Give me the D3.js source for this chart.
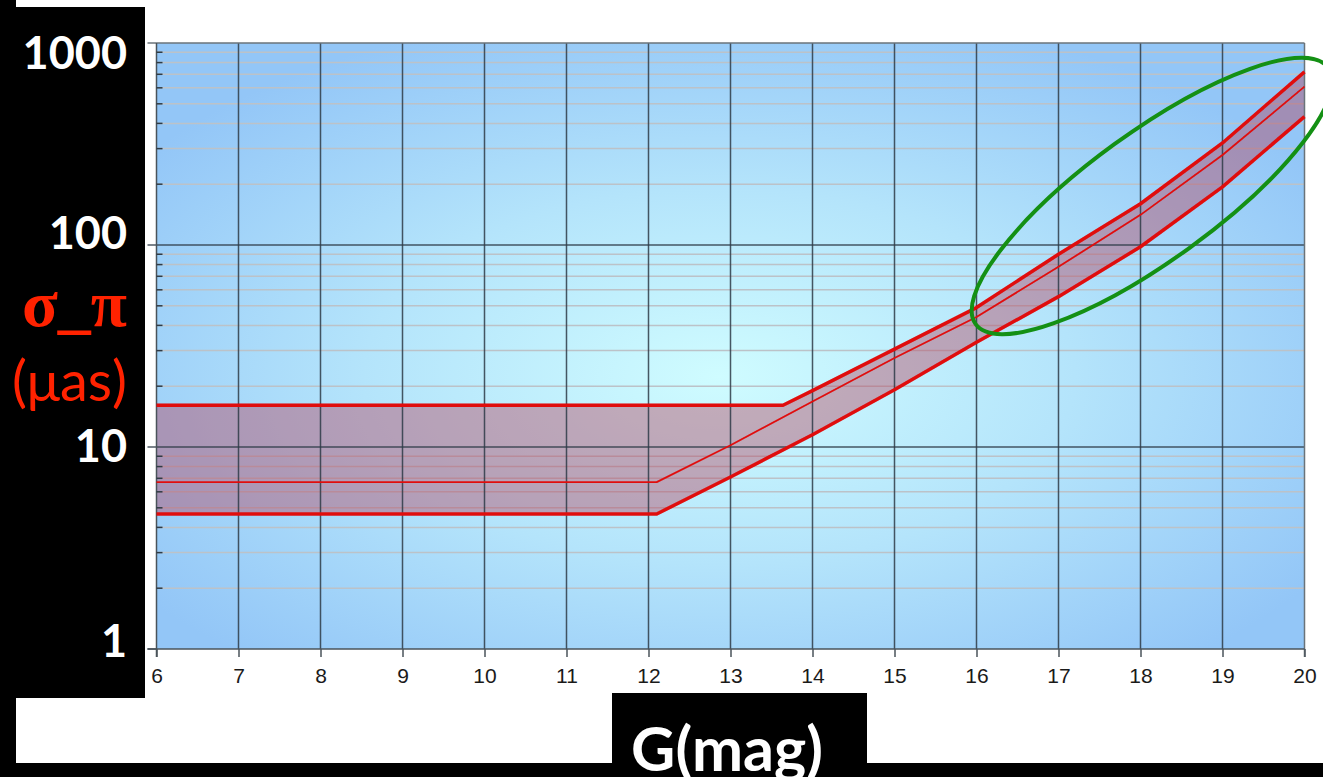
<!DOCTYPE html>
<html>
<head>
<meta charset="utf-8">
<script src="https://cdn.jsdelivr.net/npm/d3@7"></script>
<style>
  body { margin: 0; background: #fff; }
  svg { display: block; }
</style>
</head>
<body>
<div id="chart"></div>
<script>
// x ticks (G magnitude) and y ticks (parallax error, micro-arcsec)
const magTicks = [6, 7, 8, 9, 10, 11, 12, 13, 14, 15, 16, 17, 18, 19, 20];
const sigmaTicks = [1, 10, 100, 1000];

// upper edge of the band
const upperG = [6, 13.64, 14, 15, 16, 17, 18, 19, 20];
const upperSigma = [16.1, 16.1, 19, 30.5, 49, 90, 160, 320, 720];

// middle line
const midG = [6, 12.1, 13, 14, 15, 16, 17, 18, 19, 20];
const midSigma = [6.7, 6.7, 10.2, 16.8, 27.6, 44, 78, 141, 279, 608];

// lower edge of the band
const lowerG = [6, 12.1, 13, 14, 15, 16, 17, 18, 19, 20];
const lowerSigma = [4.66, 4.66, 7.1, 11.5, 19.2, 33, 55.5, 98, 194, 432];

document.addEventListener('DOMContentLoaded', function () {
    drawChart();
});

function drawChart() {
    const width = 1323;
    const height = 777;

    const svg = d3.select('#chart').append('svg')
        .attr('width', width).attr('height', height);

    const x = d3.scaleLinear().domain([6, 20]).range([156.5, 1304.5]);
    const y = d3.scaleLog().domain([1, 1000]).range([649, 43]);

    // background gradient
    const defs = svg.append('defs');
    const grad = defs.append('radialGradient')
        .attr('id', 'bg')
        .attr('cx', 0.49).attr('cy', 0.55).attr('r', 0.62)
        .attr('fx', 0.49).attr('fy', 0.55);
    grad.append('stop').attr('offset', '0%').attr('stop-color', '#cffcff');
    grad.append('stop').attr('offset', '50%').attr('stop-color', '#b4e4fb');
    grad.append('stop').attr('offset', '100%').attr('stop-color', '#93c6f7');

    // black slide panels
    svg.append('rect').attr('x', 0).attr('y', 0).attr('width', 16).attr('height', height).attr('fill', '#000');
    svg.append('rect').attr('x', 0).attr('y', 7).attr('width', 145).attr('height', 691).attr('fill', '#000');
    svg.append('rect').attr('x', 0).attr('y', 763).attr('width', width).attr('height', 14).attr('fill', '#000');
    svg.append('rect').attr('x', 612).attr('y', 693).attr('width', 255).attr('height', 84).attr('fill', '#000');

    // plot background
    svg.append('rect')
        .attr('x', x(6)).attr('y', y(1000))
        .attr('width', x(20) - x(6)).attr('height', y(1) - y(1000))
        .attr('fill', 'url(#bg)');

    // minor horizontal grid
    const minorVals = [];
    for (let d = 1; d < 1000; d *= 10) {
        for (let k = 2; k <= 9; k++) minorVals.push(d * k);
    }
    svg.append('g').selectAll('line')
        .data(minorVals)
        .enter().append('line')
        .attr('x1', x(6)).attr('x2', x(20))
        .attr('y1', d => y(d)).attr('y2', d => y(d))
        .attr('stroke', '#bcc2c8').attr('stroke-width', 1.5);

    // band fill
    const upperPts = upperG.map((g, i) => [g, upperSigma[i]]);
    const lowerPts = lowerG.map((g, i) => [g, lowerSigma[i]]);
    const midPts = midG.map((g, i) => [g, midSigma[i]]);
    const line = d3.line().x(d => x(d[0])).y(d => y(d[1]));

    svg.append('path')
        .attr('d', line(upperPts.concat(lowerPts.slice().reverse())) + 'Z')
        .attr('fill', '#b4405a').attr('fill-opacity', 0.42);

    // major grid
    svg.append('g').selectAll('line')
        .data(magTicks.slice(1, -1))
        .enter().append('line')
        .attr('x1', d => x(d)).attr('x2', d => x(d))
        .attr('y1', y(1000)).attr('y2', y(1))
        .attr('stroke', '#2e3b46').attr('stroke-opacity', 0.85).attr('stroke-width', 1.5);
    svg.append('g').selectAll('line')
        .data([10, 100])
        .enter().append('line')
        .attr('x1', x(6) - 9).attr('x2', x(20))
        .attr('y1', d => y(d)).attr('y2', d => y(d))
        .attr('stroke', '#2e3b46').attr('stroke-opacity', 0.85).attr('stroke-width', 1.5);

    // frame
    svg.append('line').attr('x1', x(6) - 9).attr('x2', x(20)).attr('y1', y(1000)).attr('y2', y(1000))
        .attr('stroke', '#6a737a').attr('stroke-width', 1.5);
    svg.append('line').attr('x1', x(20)).attr('x2', x(20)).attr('y1', y(1000)).attr('y2', y(1) + 8)
        .attr('stroke', '#6a737a').attr('stroke-width', 1.5);

    // x axis
    const xAxis = svg.append('g')
        .attr('transform', `translate(0,${y(1)})`)
        .call(d3.axisBottom(x).tickValues(magTicks).tickSize(8).tickFormat(d3.format('d')));
    xAxis.select('.domain').attr('stroke', '#4a535a').attr('stroke-width', 1.5)
        .attr('d', `M${x(6) - 9},0H${x(20)}`);
    xAxis.selectAll('.tick line').attr('stroke', '#4a535a').attr('stroke-width', 1.5);
    xAxis.selectAll('.tick text')
        .attr('y', 19)
        .attr('font-family', 'Liberation Sans, Arial, sans-serif')
        .attr('font-size', 21).attr('fill', '#1a1a1a');

    // y axis line and minor ticks inside
    svg.append('line').attr('x1', x(6)).attr('x2', x(6)).attr('y1', y(1000)).attr('y2', y(1) + 8)
        .attr('stroke', '#4a535a').attr('stroke-width', 1.5);
    svg.append('g').selectAll('line')
        .data(minorVals)
        .enter().append('line')
        .attr('x1', x(6)).attr('x2', x(6) + 6)
        .attr('y1', d => y(d)).attr('y2', d => y(d))
        .attr('stroke', '#2e3b46').attr('stroke-width', 1.5);
    svg.append('line').attr('x1', x(6) - 9).attr('x2', x(6)).attr('y1', y(1)).attr('y2', y(1))
        .attr('stroke', '#4a535a').attr('stroke-width', 1.5);

    // red lines
    const glow = defs.append('filter').attr('id', 'soft')
        .attr('x', '-5%').attr('y', '-5%').attr('width', '110%').attr('height', '110%');
    glow.append('feGaussianBlur').attr('stdDeviation', 0.6);

    [[upperPts, 3.5], [lowerPts, 3.5], [midPts, 1.8]].forEach(([pts, w]) => {
        svg.append('path')
            .attr('d', line(pts))
            .attr('fill', 'none')
            .attr('stroke', '#e00a0a')
            .attr('stroke-width', w)
            .attr('stroke-linejoin', 'round')
            .attr('filter', 'url(#soft)');
    });

    // y tick labels (placed by hand on the slide, so offsets differ)
    const labelShift = { 1: 8, 10: 15, 100: 4, 1000: 26 };
    svg.append('g').selectAll('text')
        .data(sigmaTicks)
        .enter().append('text')
        .attr('x', 127)
        .attr('y', d => y(d) + labelShift[d])
        .attr('text-anchor', 'end')
        .attr('font-family', 'Lato, sans-serif')
        .attr('font-weight', 'bold')
        .attr('font-size', 45)
        .attr('fill', '#fff')
        .text(d => d);

    // y axis title
    svg.append('text')
        .attr('x', 127).attr('y', 326)
        .attr('text-anchor', 'end')
        .attr('font-family', 'Liberation Serif, serif')
        .attr('font-weight', 'bold')
        .attr('font-size', 66)
        .attr('fill', '#ff2200')
        .text('σ_π');
    svg.append('text')
        .attr('x', 127).attr('y', 401)
        .attr('text-anchor', 'end')
        .attr('font-family', 'Lato, sans-serif')
        .attr('font-size', 56)
        .attr('fill', '#ff2200')
        .text('(μas)');

    // x axis title
    svg.append('text')
        .attr('x', 727).attr('y', 771)
        .attr('text-anchor', 'middle')
        .attr('font-family', 'Lato, sans-serif')
        .attr('font-weight', 'bold')
        .attr('font-size', 61)
        .attr('fill', '#fff')
        .text('G(mag)');

    // green highlight ellipse
    svg.append('ellipse')
        .attr('cx', 0).attr('cy', 0).attr('rx', 218).attr('ry', 64)
        .attr('transform', 'translate(1152,196) rotate(-36)')
        .attr('fill', 'none')
        .attr('stroke', '#149014')
        .attr('stroke-width', 4);
}
</script>
</body>
</html>
